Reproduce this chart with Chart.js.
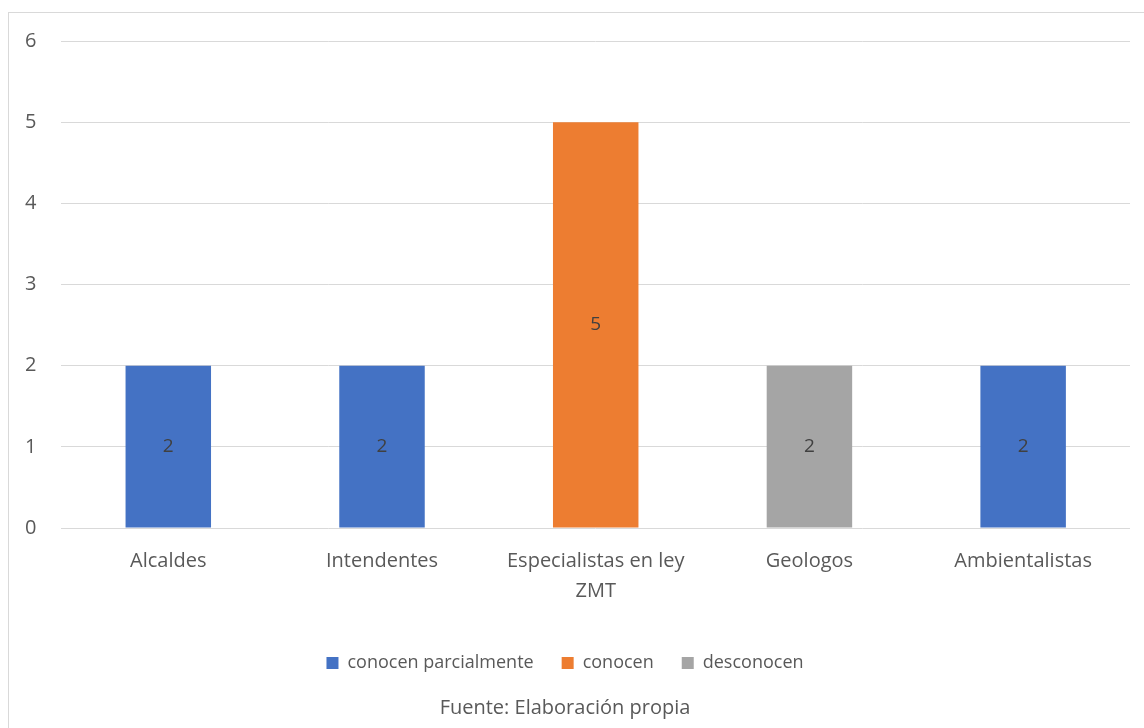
<!DOCTYPE html>
<html>
<head>
<meta charset="utf-8">
<script src="https://cdn.jsdelivr.net/npm/chart.js@4/dist/chart.umd.min.js"></script>
<style>
  html, body { margin: 0; padding: 0; background: #fff; }
  #frame {
    position: absolute; left: 8px; top: 12px; width: 1150px; height: 730px;
    border: 1px solid #d9d9d9; box-sizing: border-box;
  }
  #wrap { position: absolute; left: 0; top: 0; width: 1144px; height: 728px; }
</style>
</head>
<body>
<div id="frame"></div>
<div id="wrap"><canvas id="chart"></canvas></div>
<script>
// categories and series
const categories = ['Alcaldes', 'Intendentes', ['Especialistas en ley', 'ZMT'], 'Geologos', 'Ambientalistas'];
const conocenParcialmente = [2, 2, 0, 0, 2];
const conocen = [0, 0, 5, 0, 0];
const desconocen = [0, 0, 0, 2, 0];
const yTicks = [0, 1, 2, 3, 4, 5, 6];

const FONT = "'Open Sans', 'Liberation Sans', sans-serif";
const TEXT = '#595959';

// writes each non-zero value in the middle of its bar
const barValueLabels = {
    id: 'barValueLabels',
    afterDatasetsDraw(chart) {
        const ctx = chart.ctx;
        ctx.save();
        ctx.font = '19px ' + FONT;
        ctx.fillStyle = '#404040';
        ctx.textAlign = 'center';
        ctx.textBaseline = 'middle';
        chart.data.datasets.forEach((ds, i) => {
            chart.getDatasetMeta(i).data.forEach((bar, j) => {
                const v = ds.data[j];
                if (!v) return;
                ctx.fillText(String(v), bar.x, (bar.y + bar.base) / 2);
            });
        });
        ctx.restore();
    }
};

new Chart(document.getElementById('chart').getContext('2d'), {
    type: 'bar',
    data: {
        labels: categories,
        datasets: [
            { label: 'conocen parcialmente', data: conocenParcialmente, backgroundColor: '#4472c4' },
            { label: 'conocen', data: conocen, backgroundColor: '#ed7d31' },
            { label: 'desconocen', data: desconocen, backgroundColor: '#a5a5a5' }
        ]
    },
    options: {
        responsive: true,
        maintainAspectRatio: false,
        animation: false,
        datasets: { bar: { barPercentage: 0.4, categoryPercentage: 1 } },
        layout: { padding: { left: 0, right: 14, top: 41, bottom: 8 } },
        plugins: {
            tooltip: { enabled: false },
            legend: {
                position: 'bottom',
                labels: {
                    font: { family: FONT, size: 18 },
                    color: TEXT,
                    boxWidth: 12,
                    boxHeight: 12,
                    padding: 28
                }
            },
            title: {
                display: true,
                position: 'bottom',
                text: 'Fuente: Elaboración propia',
                font: { family: FONT, size: 20, weight: 'normal' },
                color: TEXT,
                padding: { top: 14, bottom: 0 }
            }
        },
        scales: {
            x: {
                stacked: true,
                grid: { display: false },
                border: { display: false },
                // extra room under the category labels before the legend
                afterFit: axis => { axis.height += 10; },
                ticks: { font: { family: FONT, size: 20, lineHeight: 1.5 }, color: TEXT, padding: 10, maxRotation: 0 }
            },
            y: {
                stacked: true,
                min: 0,
                max: 6,
                afterBuildTicks: axis => { axis.ticks = yTicks.map(v => ({ value: v })); },
                grid: { color: '#d9d9d9', lineWidth: 1, drawTicks: false },
                border: { display: false },
                ticks: { font: { family: FONT, size: 20 }, color: TEXT, padding: 25 }
            }
        }
    },
    plugins: [barValueLabels]
});
</script>
</body>
</html>
